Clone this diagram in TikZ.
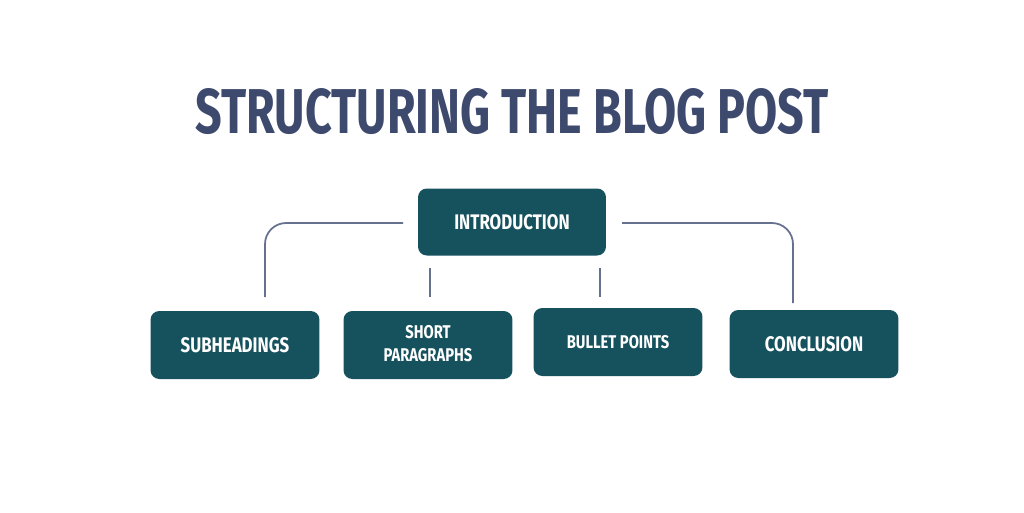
\documentclass[tikz,border=0pt]{standalone}
\usepackage{fontspec}
\setmainfont{Fira Sans}
\usepackage{graphicx}
\usetikzlibrary{positioning}
\definecolor{titleblue}{HTML}{3D4A6E}
\definecolor{boxteal}{HTML}{15525E}
\definecolor{linegray}{HTML}{66708F}

\begin{document}
\begin{tikzpicture}[
    x=0.02cm, y=-0.02cm, % one unit per pixel
    box/.style={fill=boxteal, rounded corners=5pt, text=white,
        minimum width=3.38cm, minimum height=1.36cm, align=center,
        font=\fontsize{12}{15}\selectfont\bfseries},
    link/.style={draw=linegray, line width=1pt, rounded corners=12pt}
]
\useasboundingbox (0,0) rectangle (1024,512);

% Title
\node (title) at (512,112) {\resizebox{12.66cm}{0.9cm}{\color{titleblue}\bfseries STRUCTURING THE BLOG POST}};

% Boxes
\node[box, minimum width=3.76cm, minimum height=1.34cm] (intro) at (512,222) {\scalebox{0.8}[1]{INTRODUCTION}};
\node[box] (sub) at (235,345) {\scalebox{0.8}[1]{SUBHEADINGS}};
\node[box, font=\fontsize{10.5}{14}\selectfont\bfseries] (short) at (428,345) {\scalebox{0.8}[1]{\begin{tabular}{c}SHORT\\[-1pt]PARAGRAPHS\end{tabular}}};
\node[box, font=\fontsize{10.5}{14}\selectfont\bfseries] (bullet) at (618,342) {\scalebox{0.8}[1]{BULLET POINTS}};
\node[box] (concl) at (814,344) {\scalebox{0.8}[1]{CONCLUSION}};

% Connectors
\coordinate (l1) at (403,223);
\coordinate (l2) at (265,297);
\coordinate (r1) at (622,223);
\coordinate (r2) at (793,303);
\coordinate (m1) at (430,268);
\coordinate (m2) at (430,297);
\coordinate (n1) at (600,268);
\coordinate (n2) at (600,297);
\draw[link] (l1) -| (l2);
\draw[link] (r1) -| (r2);
\draw[link] (m1) -- (m2);
\draw[link] (n1) -- (n2);

\end{tikzpicture}
\end{document}
